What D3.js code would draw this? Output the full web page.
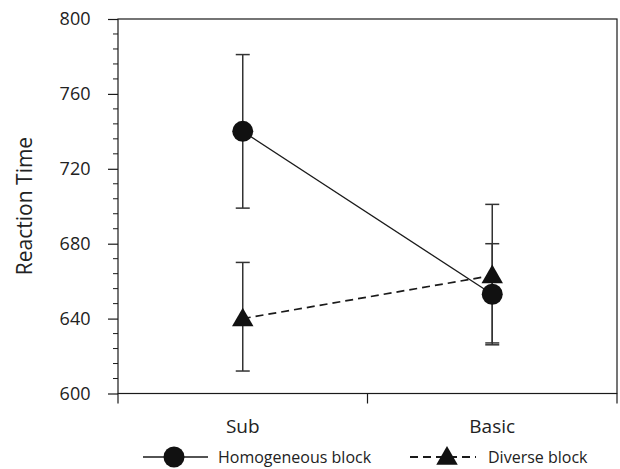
<!DOCTYPE html>
<html><head><meta charset="utf-8">
<script src="https://cdn.jsdelivr.net/npm/d3@7"></script>
<style>body{margin:0;background:#fff}svg{display:block}text{font-family:"Open Sans",sans-serif;fill:#222}</style>
</head><body>
<svg id="c" width="620" height="469"></svg>
<script>
const categories = ["Sub", "Basic"];
const seriesNames = ["Homogeneous block", "Diverse block"];
const homogeneousMean = [740, 653];
const homogeneousLow = [699, 627];
const homogeneousHigh = [781, 680];
const diverseMean = [640, 663];
const diverseLow = [612, 626];
const diverseHigh = [670, 701];
const yTicks = [600, 640, 680, 720, 760, 800];

const svg = d3.select("#c");
const L = 118, R = 617, T = 19, B = 393.5;
const x = d3.scaleBand().domain(categories).range([L, R]);
const y = d3.scaleLinear().domain([600, 800]).range([B, T]);
const col = "#1a1a1a";

// frame
svg.append("rect").attr("x", L).attr("y", T).attr("width", R - L).attr("height", B - T)
  .attr("fill", "none").attr("stroke", col).attr("stroke-width", 1.2);

// y minor ticks
const minor = d3.range(600, 801, 8).filter(v => !yTicks.includes(v));
svg.append("g").selectAll("line").data(minor).join("line")
  .attr("x1", L - 5).attr("x2", L).attr("y1", d => y(d)).attr("y2", d => y(d))
  .attr("stroke", col).attr("stroke-width", 1);
// y axis
const ya = svg.append("g").attr("transform", `translate(${L},0)`)
  .call(d3.axisLeft(y).tickValues(yTicks).tickSize(10).tickPadding(17.5));
ya.select(".domain").remove();
ya.selectAll("line").attr("stroke", col).attr("stroke-width", 1.2);
ya.selectAll("text").attr("font-size", 18).attr("font-family", "Open Sans").attr("fill", "#222");

// x ticks at band edges
const xEdges = [L, L + x.bandwidth(), R];
svg.append("g").selectAll("line").data(xEdges).join("line")
  .attr("x1", d => d).attr("x2", d => d).attr("y1", B).attr("y2", B + 10)
  .attr("stroke", col).attr("stroke-width", 1.2);
svg.append("g").selectAll("text").data(categories).join("text")
  .attr("x", d => x(d) + x.bandwidth() / 2).attr("y", 433)
  .attr("text-anchor", "middle").attr("font-size", 19).text(d => d);

// y title
svg.append("text").attr("transform", "translate(31.5,206) rotate(-90)")
  .attr("text-anchor", "middle").attr("font-size", 21).text("Reaction Time");

const cx = d => x(d) + x.bandwidth() / 2;
const series = [
  {mean: homogeneousMean, low: homogeneousLow, high: homogeneousHigh, dash: null, sw: 1.3, shape: d3.symbolCircle, size: 346},
  {mean: diverseMean, low: diverseLow, high: diverseHigh, dash: "8,5", sw: 1.7, shape: d3.symbolTriangle, size: 200}
];

// error bars
series.forEach(s => {
  const g = svg.append("g");
  categories.forEach((c, i) => {
    g.append("line").attr("x1", cx(c)).attr("x2", cx(c)).attr("y1", y(s.low[i])).attr("y2", y(s.high[i]))
      .attr("stroke", "#333").attr("stroke-width", 1.5);
    [s.low[i], s.high[i]].forEach(v => g.append("line").attr("x1", cx(c) - 7).attr("x2", cx(c) + 7)
      .attr("y1", y(v)).attr("y2", y(v)).attr("stroke", "#333").attr("stroke-width", 1.5));
  });
});
// lines
series.forEach(s => {
  svg.append("path").datum(categories.map((c, i) => [cx(c), y(s.mean[i])]))
    .attr("d", d3.line()).attr("fill", "none").attr("stroke", col).attr("stroke-width", s.sw)
    .attr("stroke-dasharray", s.dash);
});
// markers
series.forEach(s => {
  categories.forEach((c, i) => {
    svg.append("path").attr("d", d3.symbol(s.shape, s.size)())
      .attr("transform", `translate(${cx(c)},${y(s.mean[i]) + (s.shape === d3.symbolTriangle ? 1.5 : 0)})`)
      .attr("fill", "#111");
  });
});

// legend
const lg = [
  {x1: 143, x2: 208, mx: 174, tx: 218},
  {x1: 410, x2: 476, mx: 447, tx: 488}
];
const ly = 457;
series.forEach((s, i) => {
  const l = lg[i];
  svg.append("line").attr("x1", l.x1).attr("x2", l.x2).attr("y1", ly).attr("y2", ly)
    .attr("stroke", col).attr("stroke-width", s.sw + 0.2).attr("stroke-dasharray", s.dash);
  svg.append("path").attr("d", d3.symbol(s.shape, s.size)())
    .attr("transform", `translate(${l.mx},${ly + (s.shape === d3.symbolTriangle ? 1.5 : 0)})`).attr("fill", "#111");
  svg.append("text").attr("x", l.tx).attr("y", ly + 6).attr("font-size", 16).text(seriesNames[i]);
});
</script>
</body></html>
